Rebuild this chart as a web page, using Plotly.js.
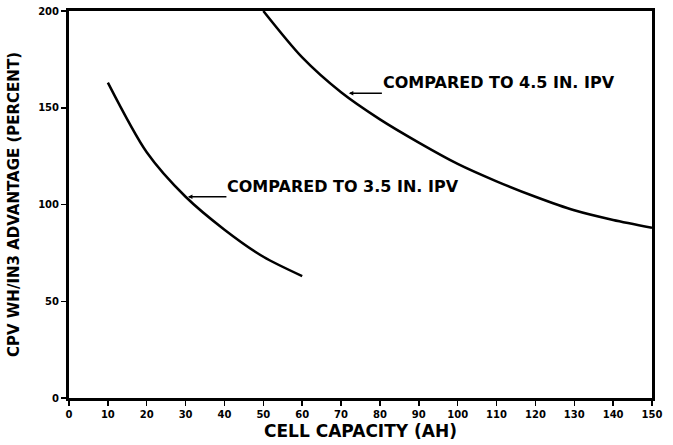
<!DOCTYPE html>
<html>
<head>
<meta charset="utf-8">
<script src="https://cdn.plot.ly/plotly-3.0.1.min.js"></script>
<style>html,body{margin:0;padding:0;background:#fff;}#chart{width:673px;height:445px;}</style>
</head>
<body>
<div id="chart"></div>
<script>
// Data
var capacity35 = [10, 20, 30, 40, 50, 60];
var advantage35 = [163, 127, 104, 87, 73, 63];
var capacity45 = [50, 60, 70, 80, 90, 100, 110, 120, 130, 140, 150];
var advantage45 = [200, 176, 158, 144, 132, 121, 112, 104, 97, 92, 88];
var xTicks = [0, 10, 20, 30, 40, 50, 60, 70, 80, 90, 100, 110, 120, 130, 140, 150];
var yTicks = [0, 50, 100, 150, 200];
var label35 = "COMPARED TO 3.5 IN. IPV";
var label45 = "COMPARED TO 4.5 IN. IPV";
var xTitle = "CELL CAPACITY (AH)";
var yTitle = "CPV WH/IN3 ADVANTAGE (PERCENT)";

var fontFam = "DejaVu Sans, Liberation Sans, sans-serif";

var traces = [
  {x: capacity35, y: advantage35, mode: "lines", line: {color: "#000", width: 2.5, shape: "spline", smoothing: 0.8}, hoverinfo: "skip"},
  {x: capacity45, y: advantage45, mode: "lines", line: {color: "#000", width: 2.5, shape: "spline", smoothing: 0.8}, hoverinfo: "skip"}
];

var layout = {
  width: 673, height: 445,
  margin: {l: 69, r: 21, t: 11, b: 47},
  paper_bgcolor: "#fff", plot_bgcolor: "#fff",
  showlegend: false,
  xaxis: {
    range: [0, 150], tickvals: xTicks, ticktext: xTicks.map(String),
    showgrid: false, zeroline: false,
    showline: true, linecolor: "#000", linewidth: 3, mirror: true,
    ticks: "outside", ticklen: 5, tickwidth: 1.5, tickcolor: "#000",
    tickfont: {family: fontFam, size: 10, color: "#000", weight: "bold"},
    title: {text: xTitle, font: {family: fontFam, size: 17, color: "#000", weight: "bold"}, standoff: 7}
  },
  yaxis: {
    range: [0, 200], tickvals: yTicks, ticktext: yTicks.map(String),
    showgrid: false, zeroline: false,
    showline: true, linecolor: "#000", linewidth: 3, mirror: true,
    ticks: "outside", ticklen: 5, tickwidth: 1.5, tickcolor: "#000",
    tickfont: {family: fontFam, size: 10, color: "#000", weight: "bold"},
    title: {text: yTitle, font: {family: fontFam, size: 15, color: "#000", weight: "bold"}, standoff: 15}
  },
  annotations: [
    {x: 30.6, y: 104, xref: "x", yref: "y", ax: 40.5, ay: 104, axref: "x", ayref: "y",
     text: label35, showarrow: true, arrowhead: 2, arrowsize: 0.6, arrowwidth: 1.5, arrowcolor: "#000",
     xanchor: "left", yanchor: "bottom", borderpad: 0,
     font: {family: fontFam, size: 16, color: "#000", weight: "bold"}},
    {x: 72, y: 157.5, xref: "x", yref: "y", ax: 80.5, ay: 157.5, axref: "x", ayref: "y",
     text: label45, showarrow: true, arrowhead: 2, arrowsize: 0.6, arrowwidth: 1.5, arrowcolor: "#000",
     xanchor: "left", yanchor: "bottom", borderpad: 0,
     font: {family: fontFam, size: 16, color: "#000", weight: "bold"}}
  ]
};

Plotly.newPlot("chart", traces, layout, {staticPlot: true, displayModeBar: false});
</script>
</body>
</html>
